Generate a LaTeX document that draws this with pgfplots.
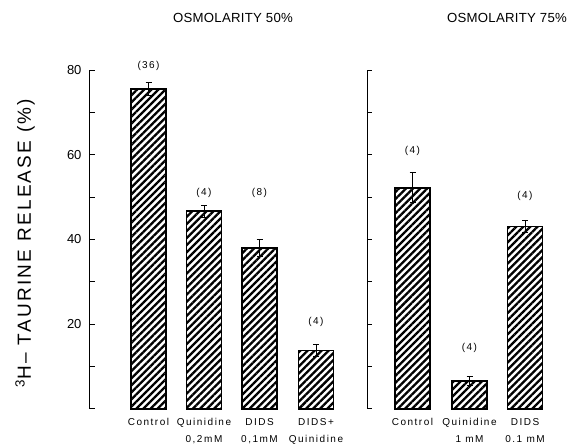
\documentclass[border=0pt]{standalone}
\usepackage{fontspec}
\setmainfont{Liberation Sans}
\usepackage{pgfplots}
\pgfplotsset{compat=1.18}
\usepackage{pgfplotstable}
\usetikzlibrary{patterns.meta}

\pgfplotstableread{
x y e
148.5 75.5 1.5
204 46.7 1.4
259.5 38.0 2.0
316 13.8 1.5
}\leftdata
\pgfplotstableread{
x y e
412.5 52.2 3.5
469.5 6.6 1.0
525 43.0 1.4
}\rightdata

\newcommand\catfont{\fontsize{10}{17}\selectfont\addfontfeature{LetterSpace=15}}
\newcommand\nfont{\fontsize{10}{11}\selectfont\addfontfeature{LetterSpace=14}}
\newcommand\tfont{\fontsize{13.2}{16}\selectfont\addfontfeature{LetterSpace=2}}

\pgfplotsset{
  panel/.style={
    scale only axis, height=339pt, ymin=0, ymax=80,
    axis x line=bottom, axis y line=left,
    x axis line style={draw=none},
    y axis line style={-, line width=1pt},
    ytick={0,10,...,80},
    tick align=inside, major tick length=5pt,
    ytick style={line width=1pt, black},
    xtick style={draw=none},
    xtick=data,
    clip=false,
    /pgf/number format/assume math mode=true,
    yticklabel style={font=\fontsize{13}{15}\selectfont, xshift=-5pt},
    xticklabel style={font=\catfont, align=center, anchor=north, yshift=-6pt},
  },
  hbar/.style={
    ybar, bar width=35pt, bar shift=0pt, draw=black, line width=1.4pt,
    pattern={Lines[angle=45,distance=5pt,line width=2.3pt]}, pattern color=black,
    error bars/.cd, y dir=both, y explicit,
    error bar style={line width=1pt, black, solid},
    error mark options={rotate=90, mark size=3pt, line width=1pt, black},
  },
}

\begin{document}
\begin{tikzpicture}[x=1pt,y=1pt]
\path[use as bounding box] (0,0) rectangle (568,446);
\begin{axis}[panel, at={(90pt,37pt)}, anchor=south west, width=260pt,
  xmin=90, xmax=350,
  yticklabels={,,20,,40,,60,,80},
  xticklabels={Control, {Quinidine\\0,2\,mM}, {DIDS\\0,1mM}, {DIDS\,+\\Quinidine}},
  ylabel={\textsuperscript{3}H– TAURINE RELEASE (\%)},
  ylabel style={at={(axis description cs:-0.25,0.49)}, anchor=center, rotate=0, font=\fontsize{19}{21}\selectfont\addfontfeature{LetterSpace=12}},
]
\addplot[hbar] table[x=x, y=y, y error=e] {\leftdata};
\node[font=\nfont] at (axis cs:148.5,81) {(36)};
\node[font=\nfont] at (axis cs:204,51) {(4)};
\node[font=\nfont] at (axis cs:259.5,51) {(8)};
\node[font=\nfont] at (axis cs:316,20.5) {(4)};
\end{axis}
\begin{axis}[panel, at={(367pt,37pt)}, anchor=south west, width=193pt,
  xmin=367, xmax=560,
  yticklabels={},
  xticklabels={Control, {Quinidine\\1 mM}, {DIDS\\0.1 mM}},
]
\addplot[hbar] table[x=x, y=y, y error=e] {\rightdata};
\node[font=\nfont] at (axis cs:412.5,61) {(4)};
\node[font=\nfont] at (axis cs:469.5,14.4) {(4)};
\node[font=\nfont] at (axis cs:525,50.3) {(4)};
\end{axis}
\node[font=\tfont] at (233,428) {OSMOLARITY 50\%};
\node[font=\tfont] at (507,428) {OSMOLARITY 75\%};
\end{tikzpicture}
\end{document}
